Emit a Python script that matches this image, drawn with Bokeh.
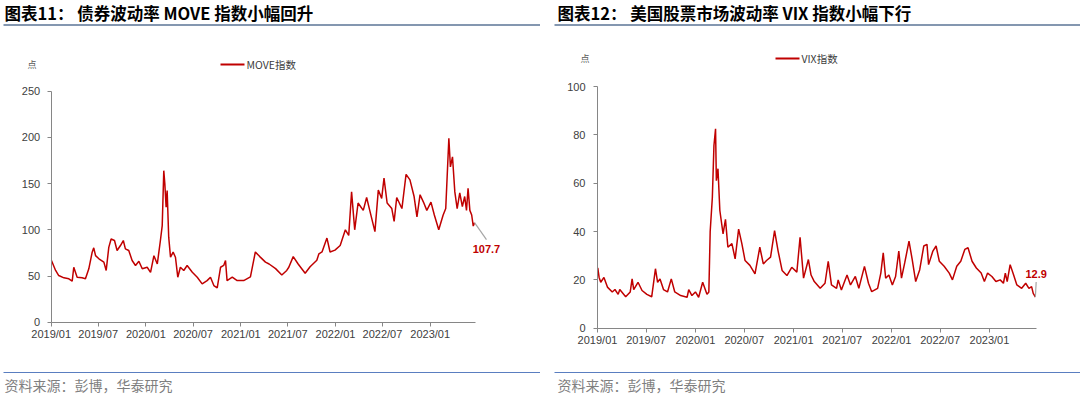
import pandas as pd
from bokeh.plotting import figure
from bokeh.layouts import row, column
from bokeh.models import Range1d, FixedTicker, DatetimeTickFormatter
from bokeh.core.properties import value
from bokeh.embed import file_html
from bokeh.resources import INLINE

# ---------------- data ----------------
move_dates = ["2019-01-02","2019-01-18","2019-01-30","2019-02-19","2019-03-10","2019-03-23","2019-03-29","2019-04-11","2019-04-30","2019-05-13","2019-05-26","2019-06-08","2019-06-14","2019-06-21","2019-07-04","2019-07-23","2019-08-01","2019-08-11","2019-08-20","2019-09-02","2019-09-12","2019-09-25","2019-10-06","2019-10-14","2019-10-27","2019-11-09","2019-11-22","2019-12-05","2019-12-18",
              "2020-01-06","2020-01-19","2020-02-01","2020-02-14","2020-02-26","2020-03-04","2020-03-10","2020-03-14","2020-03-19","2020-03-23","2020-03-29","2020-04-05","2020-04-15","2020-04-24","2020-05-03","2020-05-13","2020-05-26","2020-06-08","2020-06-28","2020-07-17","2020-08-05","2020-08-24","2020-09-06","2020-09-19","2020-10-02","2020-10-15","2020-10-27","2020-11-03","2020-11-09","2020-11-29","2020-12-18",
              "2021-01-12","2021-02-07","2021-02-26","2021-03-15","2021-04-06","2021-04-20","2021-05-15","2021-06-08","2021-06-27","2021-07-05","2021-07-22","2021-08-10","2021-09-06","2021-09-25","2021-10-21","2021-10-29","2021-11-10","2021-11-29","2021-12-11","2021-12-30",
              "2022-01-19","2022-02-08","2022-02-21","2022-03-04","2022-03-16","2022-03-29","2022-04-18","2022-05-01","2022-05-13","2022-06-02","2022-06-15","2022-06-28","2022-07-07","2022-07-19","2022-08-06","2022-08-15","2022-08-25","2022-09-14","2022-09-30","2022-10-15","2022-10-31","2022-11-11","2022-11-23","2022-12-06","2022-12-19",
              "2023-01-04","2023-01-17","2023-02-03","2023-02-20","2023-03-02","2023-03-14","2023-03-20","2023-03-28","2023-04-06","2023-04-15","2023-04-25","2023-05-05","2023-05-14","2023-05-21","2023-05-27","2023-06-03","2023-06-10","2023-06-16","2023-06-21"]
move_values = [66.8,56,50.5,48,47,44.4,59.5,48.7,48,47,57.8,75.8,80.5,72,68.6,65,56,81,90,88.4,77.6,83,88.4,79.4,77.6,66.8,61.4,66,57.8,
               59.5,54,72,63,88.4,104.6,164,150,124.5,142.5,92,70.3,75.8,70.3,48.7,59.5,56,61.4,54,48.7,41.5,45,48.7,39.7,37.2,59.5,61.4,66.8,45,48.7,45,
               45,49,76,71,65,63,58,51,56,59.5,71,63,53,60,67,74,76,91,76,78,
               83,100,94,141,100,129,121,135,121,98,143,134,156,129,123,109,135,123,160,154,136,114,138,130,121,
               130,116,100,116,123,199,168,179,141,123,140,125,136,121,145,121,116,104,107.7]

vix_dates = ["2019-01-02","2019-01-07","2019-01-13","2019-01-25","2019-02-07","2019-02-25","2019-03-07","2019-03-19","2019-03-25","2019-04-16","2019-05-03","2019-05-10","2019-05-16","2019-06-01","2019-06-16","2019-07-04","2019-07-22","2019-08-05","2019-08-13","2019-08-22","2019-09-04","2019-09-19","2019-10-03","2019-10-16","2019-11-07","2019-12-01","2019-12-07","2019-12-19",
             "2020-01-01","2020-01-13","2020-01-28","2020-02-13","2020-02-20","2020-02-25","2020-03-04","2020-03-10","2020-03-16","2020-03-19","2020-03-25","2020-04-01","2020-04-13","2020-04-22","2020-05-01","2020-05-16","2020-05-28","2020-06-10","2020-06-22","2020-07-04","2020-07-22","2020-08-10","2020-08-28","2020-09-10","2020-09-22","2020-10-07","2020-10-22","2020-11-04","2020-11-19","2020-12-07","2020-12-25",
             "2021-01-13","2021-01-25","2021-02-07","2021-02-25","2021-03-07","2021-03-19","2021-04-10","2021-04-28","2021-05-10","2021-05-22","2021-06-10","2021-06-16","2021-06-28","2021-07-19","2021-08-01","2021-08-19","2021-09-01","2021-09-22","2021-10-07","2021-10-19","2021-11-10","2021-11-22","2021-12-01","2021-12-10","2021-12-22",
             "2022-01-04","2022-01-16","2022-01-28","2022-02-07","2022-02-19","2022-03-07","2022-03-19","2022-04-01","2022-04-16","2022-05-01","2022-05-13","2022-05-19","2022-06-04","2022-06-16","2022-06-28","2022-07-16","2022-08-04","2022-08-16","2022-09-01","2022-09-16","2022-10-01","2022-10-13","2022-10-28","2022-11-13","2022-12-01","2022-12-13","2022-12-25",
             "2023-01-10","2023-01-25","2023-02-10","2023-02-22","2023-03-01","2023-03-08","2023-03-19","2023-04-01","2023-04-13","2023-05-01","2023-05-16","2023-05-28","2023-06-07","2023-06-13","2023-06-17","2023-06-21"]
vix_values = [25,21,19,21,17,15,16,14,16,13,15,20.4,16,19,15.6,14,13,24.6,19,20.4,16,15,20.4,15,13.5,12.8,16,13.5,
              15,12.8,19,14,15,40,54,75.6,82.5,61,66,48.7,39,45,33.5,35,28.7,41,35,28,26,22.5,33.5,26.6,28,29.4,40.4,32,23.9,21.8,25.2,
              23.2,37.6,20.7,28.4,22,19.3,16.5,18.6,27.7,17.9,16.5,20,15.8,22,17.9,21.4,16.5,25.6,18.6,15.1,16.5,22.8,31.2,20.7,22,
              17.9,21.4,31.9,20.7,27,36,28.4,19.3,24.2,34,34.7,26.3,31.9,34,27.7,25.6,22.8,20,25.6,27.7,32.6,33.3,27.7,24.9,22.8,19.3,22.8,
              21.4,19.3,20,18.6,22.8,19.3,26.3,22,17.9,16.5,18.6,16.5,17.2,14.4,13.7,12.9]

x_tick_labels = ["2019/01","2019/07","2020/01","2020/07","2021/01","2021/07","2022/01","2022/07","2023/01"]
move_y_ticks = [0, 50, 100, 150, 200, 250]
vix_y_ticks = [0, 20, 40, 60, 80, 100]

titles = ["图表11：  债券波动率 MOVE 指数小幅回升", "图表12：  美国股票市场波动率 VIX 指数小幅下行"]
legend_names = ["MOVE指数", "VIX指数"]
unit_label = "点"
source_note = "资料来源：彭博，华泰研究"

# ---------------- style ----------------
RED = "#C00000"
AXIS = "#868686"
TXT = "#404040"
CJK = "Noto Sans CJK SC"
LAT = "Liberation Sans"
DAY = 86400000.0


def ms(s):
    return pd.Timestamp(s).value / 1e6


tick_ms = [ms(t.replace("/", "-") + "-01") for t in x_tick_labels]
axis_start = ms("2019-01-01")
axis_end = ms("2023-06-24")


def blank(w, h):
    f = figure(width=w, height=h, x_range=Range1d(0, w), y_range=Range1d(h, 0), title=None,
               toolbar_location=None, output_backend="svg", min_border=0,
               x_axis_location=None, y_axis_location=None)
    f.grid.visible = False
    f.outline_line_color = None
    f.background_fill_color = "white"
    f.border_fill_color = "white"
    return f


def header(w, h, title, tx, ux0, unit_x, leg_x, leg_y, name):
    f = blank(w, h)
    f.text(x=[tx], y=[12], text=[title], text_font=value(CJK), text_font_size="16.5px",
           text_font_style="bold", text_color="#000000", text_baseline="middle", text_align="left")
    f.segment(x0=[ux0], x1=[w], y0=[24.5], y1=[24.5], line_color="#8497B0", line_width=2)
    f.text(x=[unit_x], y=[leg_y], text=[unit_label], text_font=value(CJK), text_font_size="9px",
           text_color="#595959", text_baseline="middle", text_align="left")
    f.segment(x0=[leg_x], x1=[leg_x + 24], y0=[leg_y], y1=[leg_y], line_color=RED, line_width=2)
    f.text(x=[leg_x + 26], y=[leg_y], text=[name], text_font=value(CJK), text_font_size="10.5px",
           text_color=TXT, text_baseline="middle", text_align="left")
    return f


def footer(w, h, tx, lx0):
    f = blank(w, h)
    f.segment(x0=[lx0], x1=[w], y0=[10], y1=[10], line_color="#5A7EC0", line_width=1)
    f.text(x=[tx], y=[22], text=[source_note], text_font=value(CJK), text_font_size="14px",
           text_color="#7F7F7F", text_baseline="middle", text_align="left")
    return f


def chart(w, h, top, x0_px, ppd, y0_abs, ppu, dates, vals, yticks, ystand,
          lead_dx, lead_dy, lab_dx, lab_dy):
    xs = [ms(d) for d in dates]
    xr = Range1d(axis_start - x0_px / ppd * DAY, axis_start + (w - x0_px) / ppd * DAY)
    yr = Range1d((y0_abs - top - h) / ppu, (y0_abs - top) / ppu)
    p = figure(width=w, height=h, x_axis_type="datetime", x_range=xr, y_range=yr, title=None,
               toolbar_location=None, output_backend="svg", min_border=0)
    p.grid.visible = False
    p.outline_line_color = None
    p.background_fill_color = "white"
    p.border_fill_color = "white"

    p.xaxis.fixed_location = 0
    p.yaxis.fixed_location = axis_start
    p.xaxis.bounds = (axis_start, axis_end)
    p.yaxis.bounds = (0, yticks[-1])
    p.xaxis.ticker = FixedTicker(ticks=tick_ms)
    p.xaxis.formatter = DatetimeTickFormatter(months="%Y/%m", years="%Y/%m", days="%Y/%m")
    p.xaxis.major_label_overrides = {t: lab for t, lab in zip(tick_ms, x_tick_labels)}
    p.yaxis.ticker = FixedTicker(ticks=yticks)
    for ax in (p.xaxis[0], p.yaxis[0]):
        ax.major_label_text_font = LAT
        ax.major_label_text_font_size = "11px"
        ax.major_label_text_color = TXT
        ax.major_tick_line_color = AXIS
        ax.minor_tick_line_color = None
        ax.major_tick_in = 0
        ax.major_tick_out = 4
        ax.axis_line_color = AXIS
        ax.axis_line_width = 1
    p.xaxis.major_label_standoff = 2
    p.yaxis.major_label_standoff = ystand

    p.line(xs, vals, line_color=RED, line_width=1.5)

    # last value label with leader line
    lx, lv = xs[-1], vals[-1]
    p.segment(x0=[lx], y0=[lv], x1=[lx + lead_dx * DAY], y1=[lv + lead_dy],
              line_color="#A6A6A6", line_width=1.2)
    p.text(x=[lx + lab_dx * DAY], y=[lv + lab_dy], text=[f"{lv:g}"],
           text_font=value(LAT), text_font_size="11px", text_font_style="bold",
           text_color=RED, text_align="center", text_baseline="middle")
    return p


W = 540
# left panel: header 0-80, chart 80-362, footer 362-394
h1 = header(W, 80, titles[0], 4, 3, 27, 220, 64, legend_names[0])
c1 = chart(W, 282, 80, 50.7, 0.2594, 321.7, 0.924, move_dates, move_values, move_y_ticks, 7,
           46, -18.4, 46, -29)
f1 = footer(W, 32, 4, 3)

# right panel: header 0-70, chart 70-362, footer 362-394
h2 = header(W, 70, titles[1], 17, 14, 40, 235, 58, legend_names[1])
c2 = chart(W, 292, 70, 57, 0.2683, 327.7, 2.417, vix_dates, vix_values, vix_y_ticks, 8,
           3, 6.2, 3, 9.5)
f2 = footer(W, 32, 17, 14)

layout = row(column(h1, c1, f1), column(h2, c2, f2))
open("out.html", "w").write(file_html(layout, INLINE))
